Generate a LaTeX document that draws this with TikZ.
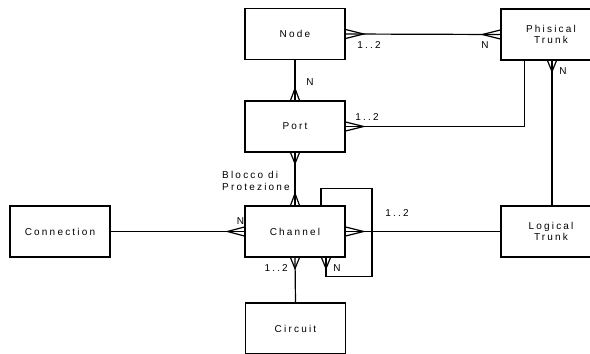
\documentclass[tikz,border=0pt]{standalone}
\usepackage{fontspec}
\setmainfont{Liberation Sans}[LetterSpace=22]
\usetikzlibrary{calc}
\newcommand{\crowfoot}[2]{\draw[link] ($(#1)!4.5pt!90:(#2)$) -- (#2) -- ($(#1)!4.5pt!-90:(#2)$);}
\begin{document}
\begin{tikzpicture}[x=1pt,y=-1pt,
  box/.style={draw,line width=1.2pt,minimum width=100pt,minimum height=51pt,align=center,inner sep=0pt,font=\fontsize{10}{11.5}\selectfont},
  link/.style={line width=1.2pt},
  lbl/.style={font=\fontsize{10}{11.5}\selectfont,inner sep=0pt}]
\useasboundingbox (0,0) rectangle (590,354);
\clip (0,0) rectangle (590,354);
\node[box] (nd) at (295,34) {Node};
\node[box] (pt) at (551,34.5) {Phisical\\Trunk};
\node[box] (po) at (295,126.5) {Port};
\node[box] (ch) at (295,231.5) {Channel};
\node[box] (co) at (60,231.5) {Connection};
\node[box] (lt) at (551,231.5) {Logical\\Trunk};
\node[box] (ci) at (295.5,328.5) {Circuit};
% Node - Phisical Trunk
\draw[link] (nd.east) -- (pt.west);
\crowfoot{nd.east}{$(nd.east)+(18,0)$}
\crowfoot{pt.west}{$(pt.west)+(-18,0)$}
% Node - Port
\draw[link] (nd.south) -- (po.north);
\crowfoot{po.north}{$(po.north)+(0,-12)$}
% Port - Phisical Trunk
\draw[link] (po.east) -| ($(pt.south west)+(24,0)$);
\crowfoot{po.east}{$(po.east)+(18,0)$}
% Phisical - Logical
\draw[link] ($(pt.south)+(1,0)$) -- ($(lt.north)+(1,0)$);
\crowfoot{$(pt.south)+(1,0)$}{$(pt.south)+(1,11)$}
% Port - Channel
\draw[link] (po.south) -- (ch.north);
\crowfoot{po.south}{$(po.south)+(0,11)$}
\crowfoot{ch.north}{$(ch.north)+(0,-12)$}
% Connection - Channel
\draw[link] (co.east) -- (ch.west);
\crowfoot{ch.west}{$(ch.west)+(-17,0)$}
% Channel - Logical
\draw[link] (ch.east) -- (lt.west);
\crowfoot{ch.east}{$(ch.east)+(18,0)$}
% Channel - Circuit
\draw[link] (ch.south) -- (ci.north);
\crowfoot{ch.south}{$(ch.south)+(0,11)$}
% Self loop
\draw[link] ($(ch.north)+(26,0)$) -- ++(0,-17) -| ($(ch.south)+(77,19)$) -| ($(ch.south)+(31,0)$);
\crowfoot{$(ch.south)+(31,0)$}{$(ch.south)+(31,11)$}
% labels
\node[lbl] (l1) at (369,45) {1..2};
\node[lbl] (l2) at (485,45) {N};
\node[lbl] (l3) at (310,82) {N};
\node[lbl] (l4) at (367,117) {1..2};
\node[lbl] (l5) at (563,71) {N};
\node[lbl,anchor=west,align=left] (l6) at (222,181) {Blocco di\\Protezione};
\node[lbl] (l7) at (240.5,221) {N};
\node[lbl] (l8) at (397,213) {1..2};
\node[lbl,anchor=east] (l9) at (288,268) {1..2};
\node[lbl] (l10) at (337,268) {N};
\end{tikzpicture}
\end{document}
